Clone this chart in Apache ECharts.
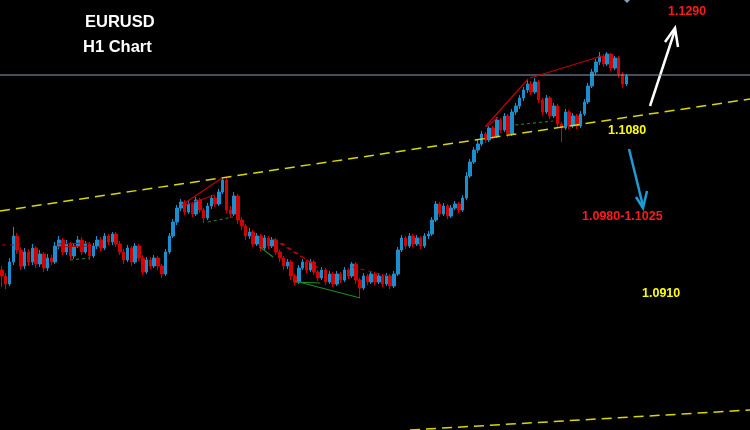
<!DOCTYPE html>
<html><head><meta charset="utf-8">
<script src="https://cdn.jsdelivr.net/npm/echarts@6/dist/echarts.min.js"></script>
<style>html,body{margin:0;padding:0;background:#000;}#c{width:750px;height:430px;}</style>
</head><body><div id="c"></div>
<script>
// prices in points (1/10000)
const opens = [10960,10954,10946,10968,10994,10980,10964,10978,10968,10982,
10966,10976,10962,10972,10968,10984,10990,10978,10986,10974,
10984,10990,10978,10986,10974,10984,10990,10982,10994,10988,
10996,10986,10978,10970,10982,10968,10984,10972,10958,10970,
10964,10972,10964,10956,10978,10994,11008,11022,11028,11018,
11026,11016,11030,11020,11012,11024,11032,11026,11038,11050,
11020,11016,11034,11010,11004,10994,10998,10986,10994,10982,
10992,10984,10990,10978,10972,10964,10968,10954,10948,10962,
10968,10960,10968,10958,10952,10960,10948,10956,10946,10956,
10950,10960,10954,10966,10950,10942,10954,10948,10956,10948,
10954,10946,10954,10944,10956,10980,10992,10984,10994,10986,
10992,10984,10994,10996,11010,11026,11016,11024,11014,11022,
11026,11020,11032,11054,11068,11080,11086,11096,11090,11102,
11094,11110,11100,11114,11096,11118,11124,11132,11140,11146,
11138,11148,11130,11118,11132,11114,11124,11106,11102,11118,
11104,11114,11104,11116,11128,11144,11158,11168,11174,11166,
11176,11162,11172,11156,11146];
const closes = [10954,10946,10968,10994,10980,10964,10978,10968,10982,10966,
10976,10962,10972,10968,10984,10990,10978,10986,10974,10984,
10990,10978,10986,10974,10984,10990,10982,10994,10988,10996,
10986,10978,10970,10982,10968,10984,10972,10958,10970,10964,
10972,10964,10956,10978,10994,11008,11022,11028,11018,11026,
11016,11030,11020,11012,11024,11032,11026,11038,11050,11020,
11016,11034,11010,11004,10994,10998,10986,10994,10982,10992,
10984,10990,10978,10972,10964,10968,10954,10948,10962,10968,
10960,10968,10958,10952,10960,10948,10956,10946,10956,10950,
10960,10954,10966,10950,10942,10954,10948,10956,10948,10954,
10946,10954,10944,10956,10980,10992,10984,10994,10986,10992,
10984,10994,10996,11010,11026,11016,11024,11014,11022,11026,
11020,11032,11054,11068,11080,11086,11096,11090,11102,11094,
11110,11100,11114,11096,11118,11124,11132,11140,11146,11138,
11148,11130,11118,11132,11114,11124,11106,11102,11118,11104,
11114,11104,11116,11128,11144,11158,11168,11174,11166,11176,
11162,11172,11156,11146,11154];
const lows = [10943,10941,10944,10965,10976,10960,10961,10964,10965,10962,
10963,10958,10959,10965,10966,10981,10975,10975,10970,10971,
10982,10975,10976,10970,10972,10981,10979,10980,10985,10985,
10983,10975,10966,10968,10964,10966,10969,10955,10956,10961,
10962,10960,10952,10954,10976,10992,11005,11019,11015,11016,
11013,11014,11017,11007,11010,11021,11023,11024,11036,11017,
11012,11014,11006,11000,10990,10991,10983,10984,10979,10980,
10981,10982,10975,10968,10960,10961,10950,10945,10946,10960,
10957,10958,10955,10949,10950,10945,10946,10943,10944,10947,
10948,10951,10952,10946,10932,10940,10945,10946,10945,10946,
10943,10944,10941,10942,10954,10978,10981,10982,10983,10984,
10981,10982,10991,10994,11008,11013,11014,11011,11012,11020,
11017,11018,11030,11052,11066,11077,11084,11087,11088,11091,
11092,11097,11098,11093,11094,11115,11121,11129,11137,11135,
11136,11127,11115,11116,11111,11112,11103,11088,11100,11101,
11102,11101,11102,11114,11126,11142,11155,11165,11163,11164,
11159,11160,11152,11142,11144];
const highs = [10964,10957,10972,11003,10997,10983,10982,10981,10986,10984,
10980,10978,10976,10975,10988,10994,10992,10990,10988,10987,
10994,10993,10989,10988,10987,10994,10993,10997,10996,10998,
10998,10989,10981,10985,10984,10987,10986,10975,10973,10973,
10975,10974,10966,10981,10997,11011,11025,11031,11030,11029,
11028,11033,11032,11022,11027,11035,11035,11041,11053,11052,
11024,11038,11036,11013,11006,11002,11000,10997,10996,10995,
10994,10993,10992,10980,10974,10971,10970,10956,10965,10971,
10970,10971,10970,10960,10963,10962,10959,10958,10959,10958,
10963,10962,10968,10968,10952,10957,10956,10959,10958,10957,
10956,10957,10956,10959,10983,10995,10994,10997,10996,10995,
10994,10997,10999,11013,11029,11028,11027,11026,11025,11029,
11028,11035,11058,11071,11083,11090,11099,11098,11105,11104,
11113,11112,11117,11116,11121,11127,11135,11143,11150,11149,
11152,11150,11132,11135,11134,11127,11126,11108,11121,11120,
11117,11116,11119,11131,11147,11161,11171,11178,11176,11178,
11177,11174,11174,11158,11156];
const hours = Array.from({length: 197}, (_, i) => 'H' + i);
// trend / pattern anchors: [bar index, price points]
const upperTrend = [[-0.5, 11019], [196.5, 11131]];
const lowerTrend = [[107.2, 10800], [196.5, 10820]];
const resistance = 11155;
const redSolid = [
  [[14.7, 10986], [23.1, 10987]], [[14.7, 10983], [23.1, 10984]],
  [[47.3, 11025], [57.8, 11052]], [[48.1, 11025], [56.0, 11035]],
  [[126.9, 11103], [138.2, 11151]], [[138.7, 11152], [157.6, 11174]],
  [[127.4, 11103], [130.3, 11113]]
];
const redDashed = [
  [[0.0, 10985], [3.4, 10985]],
  [[71.2, 10991], [82.2, 10965]], [[73.5, 10987], [84.0, 10960]],
  [[92.2, 10963], [101.4, 10954]]
];
const greenSolid = [
  [[67.8, 10983], [71.2, 10973]],
  [[77.0, 10949], [94.1, 10932]], [[77.0, 10948], [83.6, 10947]]
];
const greenDashed = [
  [[17.9, 10970], [23.1, 10972]],
  [[54.1, 11008], [60.7, 11013]],
  [[134.8, 11105], [144.8, 11109]]
];
const title = ['EURUSD', 'H1 Chart'];
const targets = ['1.1290', '1.1080', '1.0980-1.1025', '1.0910'];

const P = v => v / 10000;
const candles = opens.map((o, i) => [P(o), P(closes[i]), P(lows[i]), P(highs[i])]);
function segs(list) {
  const out = [];
  list.forEach((s, k) => { if (k) out.push(null); s.forEach(p => out.push([p[0], P(p[1])])); });
  return out;
}
function lineSeries(data, color, type, width) {
  return { type: 'line', xAxisIndex: 1, yAxisIndex: 0, data: data, symbol: 'none', silent: true,
    connectNulls: false, animation: false, lineStyle: { color: color, type: type, width: width } };
}
const chart = echarts.init(document.getElementById('c'), null, { renderer: 'canvas' });
const font = '"Liberation Sans", Arial, sans-serif';
chart.setOption({
  backgroundColor: '#000',
  animation: false,
  grid: { left: 0, right: 0, top: 0, bottom: 0 },
  xAxis: [
    { type: 'category', data: hours, show: false, boundaryGap: true },
    { type: 'value', min: -0.5, max: 196.5, show: false }
  ],
  yAxis: { type: 'value', min: 1.08, max: 1.123, show: false, splitLine: { show: false } },
  series: [
    lineSeries([[-0.5, P(resistance)], [196.5, P(resistance)]], '#8d9db3', 'solid', 1),
    lineSeries(segs([upperTrend]), '#d8d800', [10, 6], 1.5),
    lineSeries(segs([lowerTrend]), '#d8d800', [10, 6], 1.5),
    lineSeries(segs(redSolid), '#c00000', 'solid', 1.2),
    lineSeries(segs(redDashed), '#c00000', [4, 4], 1.2),
    lineSeries(segs(greenSolid), '#1f8a1f', 'solid', 1.2),
    lineSeries(segs(greenDashed), '#1f7a1f', [3, 3], 1.2),
    {
      type: 'candlestick', xAxisIndex: 0, yAxisIndex: 0, data: candles, barWidth: 3,
      itemStyle: { color: '#1a8fd0', color0: '#d40000', borderColor: '#1a8fd0', borderColor0: '#d40000', borderWidth: 1 }
    }
  ],
  graphic: [
    { type: 'text', left: 85, top: 14, style: { text: title[0], fill: '#fff', font: 'bold 16.5px ' + font } },
    { type: 'text', left: 83, top: 39, style: { text: title[1], fill: '#fff', font: 'bold 16.5px ' + font } },
    { type: 'text', left: 668, top: 5, style: { text: targets[0], fill: '#ff1a1a', font: 'bold 12.5px ' + font } },
    { type: 'text', left: 608, top: 124, style: { text: targets[1], fill: '#ffff00', font: 'bold 12.5px ' + font } },
    { type: 'text', left: 582, top: 210, style: { text: targets[2], fill: '#ff1a1a', font: 'bold 12.5px ' + font } },
    { type: 'text', left: 642, top: 287, style: { text: targets[3], fill: '#ffff00', font: 'bold 12.5px ' + font } },
    { type: 'line', shape: { x1: 650, y1: 106, x2: 675, y2: 30 }, style: { stroke: '#fff', lineWidth: 2.5 } },
    { type: 'polyline', shape: { points: [[665, 42], [675, 28], [678, 47]] }, style: { stroke: '#fff', lineWidth: 2.5, fill: null } },
    { type: 'line', shape: { x1: 629, y1: 149, x2: 643, y2: 206 }, style: { stroke: '#1e9ad6', lineWidth: 2.5 } },
    { type: 'polyline', shape: { points: [[636, 197], [643, 208], [647, 191]] }, style: { stroke: '#1e9ad6', lineWidth: 2.5, fill: null } },
    { type: 'polygon', shape: { points: [[623, -1], [627, -5], [631, -1], [627, 3]] }, style: { fill: '#8d9db3' } }
  ]
});
</script></body></html>
